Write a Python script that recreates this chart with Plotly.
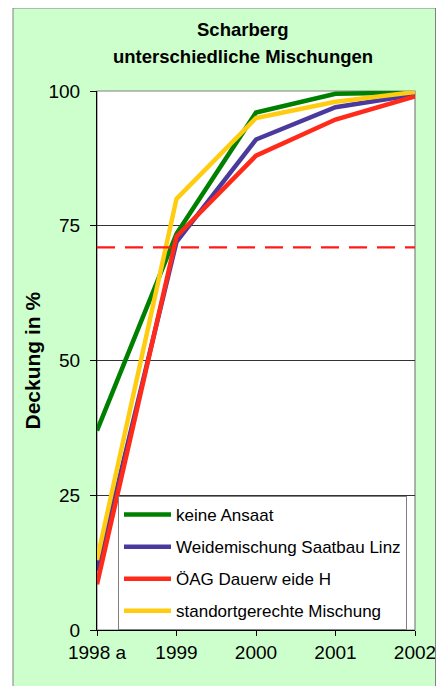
import plotly.graph_objects as go

years = ["1998 a", "1999", "2000", "2001", "2002"]
keine_ansaat = [37, 73.5, 96, 99.5, 99.7]
weidemischung = [11, 72, 91, 97, 99.3]
oeag = [8.5, 73, 88, 94.7, 99]
standort = [13, 80, 95, 98, 99.8]
threshold = 71
y_ticks = [0, 25, 50, 75, 100]

series = [
    ("keine Ansaat", keine_ansaat, "#008000"),
    ("Weidemischung Saatbau Linz", weidemischung, "#4B3A9E"),
    ("ÖAG Dauerw eide H", oeag, "#FF2A1A"),
    ("standortgerechte Mischung", standort, "#FFCC10"),
]

FONT = "Arial, Liberation Sans, sans-serif"

OFF = 8  # page body margin
W, H = 445 - OFF, 686 - OFF
L, R, T, B = 97 - OFF, 415 - OFF, 91 - OFF, 630 - OFF
pw, ph = R - L, B - T


def px_x(x):
    return (x - OFF - L) / pw


def px_y(y):
    return (B - (y - OFF)) / ph


fig = go.Figure()

fig.update_layout(
    shapes=[
        dict(type="rect", xref="paper", yref="paper", layer="below",
             x0=px_x(13), x1=px_x(435.5), y0=px_y(720), y1=px_y(8),
             fillcolor="#CCFFCC", line=dict(color="#808080", width=1)),
        dict(type="rect", xref="paper", yref="paper", layer="below",
             x0=0, x1=1, y0=0, y1=1,
             fillcolor="white", line=dict(color="#808080", width=1.2)),
        dict(type="rect", xref="paper", yref="paper", layer="above",
             x0=px_x(436), x1=px_x(470), y0=px_y(720), y1=px_y(640),
             fillcolor="white", line=dict(width=0)),
        dict(type="line", xref="paper", yref="paper", layer="above",
             x0=px_x(435.5), x1=px_x(435.5), y0=px_y(720), y1=px_y(636),
             line=dict(color="#808080", width=1)),
    ]
)

for i, (name, vals, col) in enumerate(series):
    fig.add_trace(go.Scatter(
        x=years, y=vals, name=name, mode="lines",
        line=dict(color=col, width=4.5),
        legendgroup=f"g{i}",
    ))

fig.add_hline(y=threshold, line=dict(color="#FF1A1A", width=2.2, dash="18px,10px"), layer="above")

fig.update_layout(
    width=W, height=H,
    margin=dict(l=L, r=W - R, t=T, b=H - B, pad=0, autoexpand=False),
    paper_bgcolor="white",
    plot_bgcolor="white",
    font=dict(family=FONT, color="black"),
    showlegend=True,
    legend=dict(
        x=px_x(118), y=0, xanchor="left", yanchor="bottom",
        bgcolor="white", bordercolor="#808080", borderwidth=1,
        font=dict(size=17, family=FONT, color="black"),
        tracegroupgap=7, traceorder="grouped",
        itemwidth=47,
    ),
    annotations=[
        dict(text="<b>Scharberg</b>", xref="paper", yref="paper",
             x=px_x(243), y=px_y(30), showarrow=False,
             font=dict(size=18.5, family=FONT), xanchor="center", yanchor="middle"),
        dict(text="<b>unterschiedliche Mischungen</b>", xref="paper", yref="paper",
             x=px_x(243), y=px_y(56), showarrow=False,
             font=dict(size=18.5, family=FONT), xanchor="center", yanchor="middle"),
        dict(text="<b>Deckung in %</b>", xref="paper", yref="paper",
             x=px_x(32), y=0.5, showarrow=False, textangle=-90,
             font=dict(size=21, family=FONT), xanchor="center", yanchor="middle"),
    ],
)

fig.update_xaxes(
    type="category", range=[0, len(years) - 1],
    automargin=False,
    showgrid=False, zeroline=False,
    showline=True, linecolor="black", linewidth=1.2,
    ticks="outside", ticklen=5, tickcolor="black",
    tickfont=dict(size=19, family=FONT, color="black"),
)
fig.update_yaxes(
    range=[0, 100], tickvals=y_ticks,
    automargin=False,
    showgrid=True, gridcolor="#333333", gridwidth=1,
    zeroline=False,
    showline=True, linecolor="black", linewidth=1.2,
    ticks="outside", ticklen=6, tickcolor="black",
    tickfont=dict(size=19, family=FONT, color="black"),
    ticklabelstandoff=6,
)

fig.write_html("out.html")
